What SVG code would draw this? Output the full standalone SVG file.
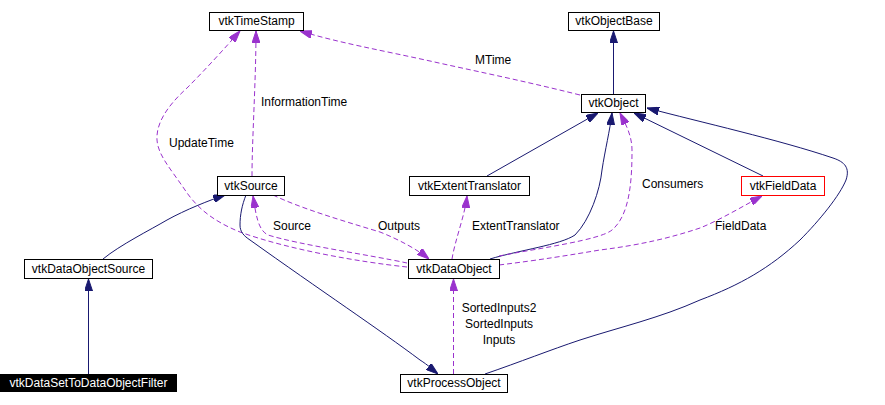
<svg xmlns="http://www.w3.org/2000/svg" width="885" height="405" viewBox="0 0 885 405">
<style>
.box{fill:#fff;stroke:#000;stroke-width:1}
.lbl{font-family:"Liberation Sans",Arial,sans-serif;font-size:12px;fill:#000}
.nt{font-family:"Liberation Sans",Arial,sans-serif;font-size:12px;fill:#000;text-anchor:middle}
.inh{fill:none;stroke:#191970;stroke-width:1;marker-end:url(#an)}
.use{fill:none;stroke:#9a32cd;stroke-width:1;stroke-dasharray:5,3;marker-end:url(#ap)}
</style>
<defs>
<marker id="an" viewBox="0 0 12 8" refX="12" refY="4" markerWidth="12" markerHeight="8" markerUnits="userSpaceOnUse" orient="auto"><path d="M0,0 L12,4 L0,8 z" fill="#191970" stroke="#191970"/></marker>
<marker id="ap" viewBox="0 0 12 8" refX="12" refY="4" markerWidth="12" markerHeight="8" markerUnits="userSpaceOnUse" orient="auto"><path d="M0,0 L12,4 L0,8 z" fill="#9a32cd" stroke="#9a32cd"/></marker>
</defs>
<rect width="885" height="405" fill="#fff"/>
<g id="connectors">
<path class="inh" d="M613.5,94 L613.5,31"/>
<path class="use" d="M580,95 C520,80 470,70 430,61 C380,50 340,43 300,31"/>
<path class="use" d="M252,176 C252,140 256,80 256,31"/>
<path class="use" d="M407,267 C360,262 290,250 240,232 C210,220 195,205 185,190 C170,168 158,155 157,140 C156,125 165,108 187,88 C205,70 225,48 240,31"/>
<path class="use" d="M407,263 C370,255 300,245 268,235 C258,230 256,215 253,196"/>
<path class="use" d="M273,195 C300,208 340,220 380,232 C400,240 418,250 429,259"/>
<path class="use" d="M452,259 C455,240 465,215 467,196"/>
<path class="inh" d="M487,176 L598,113"/>
<path class="inh" d="M490,259 C520,250 560,245 575,235 C590,220 600,190 602,170 C605,150 610,130 612,113"/>
<path class="use" d="M499,256 C540,248 600,240 612,230 C630,215 632,180 632,150 C632,135 625,123 620,113"/>
<path class="inh" d="M763,176 L634,113"/>
<path class="use" d="M499,265 C540,260 570,255 600,250 C640,245 670,238 700,228 C720,220 745,205 762,196"/>
<path class="inh" d="M485,374 C520,362 550,350 580,340 C620,327 660,318 700,300 C740,285 770,268 800,240 C820,220 840,195 846,180 C850,168 845,162 833,158 C780,140 700,122 647,108"/>
<path class="inh" d="M246,195 C242,205 240,215 240,225 C240,232 244,236 250,240 C320,290 380,330 420,360 C428,365 433,370 438,374"/>
<path class="inh" d="M103,259 C120,245 150,230 167,220 C185,210 210,200 225,195"/>
<path class="inh" d="M88.5,374 L88.5,279"/>
<path class="use" d="M453.5,374 L453.5,279"/>
<text class="lbl" x="475" y="64">MTime</text>
<text class="lbl" x="261" y="106">InformationTime</text>
<text class="lbl" x="169" y="147">UpdateTime</text>
<text class="lbl" x="273" y="230">Source</text>
<text class="lbl" x="378" y="230">Outputs</text>
<text class="lbl" x="472" y="230">ExtentTranslator</text>
<text class="lbl" x="642" y="188">Consumers</text>
<text class="lbl" x="715" y="230">FieldData</text>
<text class="nt" x="499" y="312">SortedInputs2</text>
<text class="nt" x="499" y="328">SortedInputs</text>
<text class="nt" x="499" y="344">Inputs</text>
</g>
<g id="vtkTimeStamp"><rect class="box" x="209.5" y="12.5" width="94" height="18"/><text class="nt" x="256.5" y="25">vtkTimeStamp</text></g>
<g id="vtkObjectBase"><rect class="box" x="568.5" y="12.5" width="91" height="18"/><text class="nt" x="614" y="25">vtkObjectBase</text></g>
<g id="vtkObject"><rect class="box" x="581.5" y="94.5" width="64" height="18"/><text class="nt" x="613.5" y="107">vtkObject</text></g>
<g id="vtkSource"><rect class="box" x="217.5" y="176.5" width="67" height="19"/><text class="nt" x="251" y="190">vtkSource</text></g>
<g id="vtkExtentTranslator"><rect class="box" x="409.5" y="176.5" width="120" height="19"/><text class="nt" x="469.5" y="190">vtkExtentTranslator</text></g>
<g id="vtkFieldData"><rect x="741.5" y="176.5" width="83" height="19" fill="#fff" stroke="#ff0000"/><text class="nt" x="783" y="190">vtkFieldData</text></g>
<g id="vtkDataObjectSource"><rect class="box" x="24.5" y="259.5" width="128" height="19"/><text class="nt" x="88.5" y="273">vtkDataObjectSource</text></g>
<g id="vtkDataObject"><rect class="box" x="408.5" y="259.5" width="91" height="19"/><text class="nt" x="454" y="273">vtkDataObject</text></g>
<g id="vtkDataSetToDataObjectFilter"><rect x="0" y="374" width="177" height="18" fill="#000"/><text class="nt" x="88.5" y="387" style="fill:#fff">vtkDataSetToDataObjectFilter</text></g>
<g id="vtkProcessObject"><rect class="box" x="400.5" y="374.5" width="107" height="18"/><text class="nt" x="454" y="387">vtkProcessObject</text></g>
</svg>
